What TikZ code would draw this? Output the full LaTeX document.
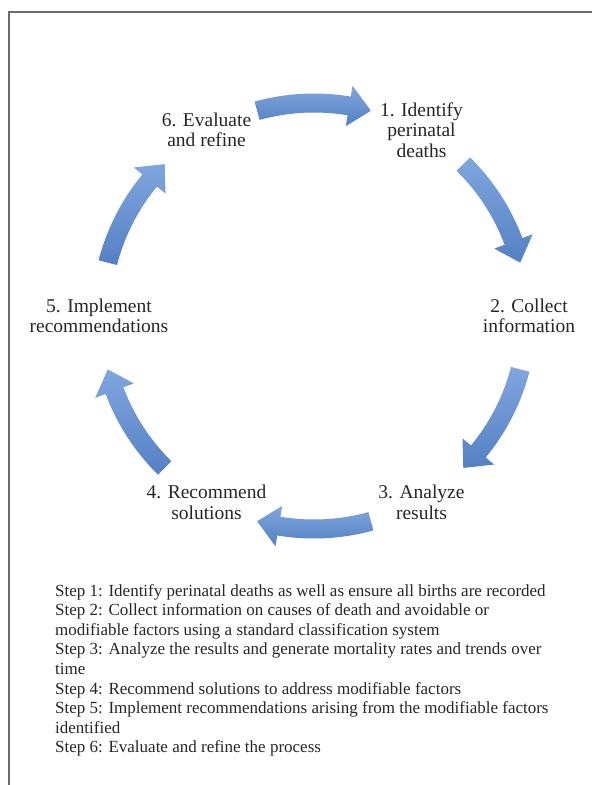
\documentclass[tikz,border=0pt]{standalone}
\usepackage{fontspec}
\setmainfont{Liberation Serif}
\usetikzlibrary{calc}

\definecolor{cyclelight}{RGB}{128,166,221}
\definecolor{cycledark}{RGB}{84,128,196}
\definecolor{textgray}{RGB}{38,38,38}

\tikzset{
	cyclelabel/.style={ align=center, text=textgray, inner sep=0pt, font=\fontsize{19.5}{20.5}\selectfont },
	steptext/.style={ align=left, text=textgray, inner sep=0pt, font=\fontsize{17}{19.6}\selectfont },
	cyclearrow/.style={ top color=cyclelight, bottom color=cycledark, draw=none },
}

\begin{document}
\begin{tikzpicture}[ x=1pt, y=1pt ]

	\def\rcycle{213}
	\def\rlabel{215}
	\def\halfspan{15.5}
	\def\halfwidth{9.5}
	\def\halfhead{20.5}
	\def\headangle{6}

	\useasboundingbox (0, 0) rectangle (592, -785);
	\draw[ line width=1.6pt, gray!85!black ] (9, -785) -- (9, -12) -- (592, -12);

	\coordinate (cyc) at (314, -316);

	\node[ cyclelabel ] (identify) at ($(cyc)+(60:\rlabel)$) {1. Identify\\perinatal\\deaths};
	\node[ cyclelabel ] (collect) at ($(cyc)+(0:\rlabel)$) {2. Collect\\information};
	\node[ cyclelabel ] (analyze) at ($(cyc)+(-60:\rlabel)$) {3. Analyze\\results};
	\node[ cyclelabel ] (recommend) at ($(cyc)+(-120:\rlabel)$) {4. Recommend\\solutions};
	\node[ cyclelabel ] (implement) at ($(cyc)+(180:\rlabel)$) {5. Implement\\recommendations};
	\node[ cyclelabel ] (evaluate) at ($(cyc)+(120:\rlabel)$) {6. Evaluate\\and refine};

	\foreach \m in {90, 30, -30, -90, -150, 150} {
		\shade[ cyclearrow, shift={(cyc)} ] (\m+\halfspan:\rcycle+\halfwidth)
			arc[ start angle=\m+\halfspan, end angle=\m-\halfspan+\headangle, radius=\rcycle+\halfwidth ]
			-- (\m-\halfspan+\headangle:\rcycle+\halfhead) -- (\m-\halfspan:\rcycle)
			-- (\m-\halfspan+\headangle:\rcycle-\halfhead) -- (\m-\halfspan+\headangle:\rcycle-\halfwidth)
			arc[ start angle=\m-\halfspan+\headangle, end angle=\m+\halfspan, radius=\rcycle-\halfwidth ] -- cycle;
	}

	\node[ steptext, anchor=north west ] (steps) at (55, -584) {Step 1: Identify perinatal deaths as well as ensure all births are recorded\\
		Step 2: Collect information on causes of death and avoidable or\\
		modifiable factors using a standard classification system\\
		Step 3: Analyze the results and generate mortality rates and trends over\\
		time\\
		Step 4: Recommend solutions to address modifiable factors\\
		Step 5: Implement recommendations arising from the modifiable factors\\
		identified\\
		Step 6: Evaluate and refine the process};

\end{tikzpicture}
\end{document}
